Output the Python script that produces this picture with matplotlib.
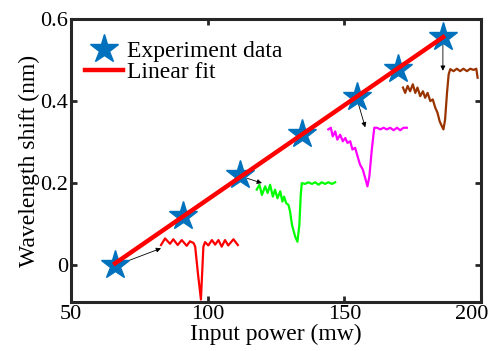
import numpy as np
import matplotlib
matplotlib.use("Agg")
import matplotlib.pyplot as plt
import matplotlib.transforms as mtrans

plt.rcParams['font.family'] = ['Liberation Serif', 'DejaVu Serif']

# measured peak shift vs input power
power = [66.1, 91.0, 111.8, 134.5, 154.6, 169.6, 186.1]
shift = [0.0, 0.12, 0.22, 0.32, 0.41, 0.478, 0.556]

# transmission spectra drawn as insets (in data units of the main axes)
red_x = [82.9, 84.4, 86.2, 87.4, 89.0, 90.5, 92.3, 93.5, 94.8, 95.4, 96.4, 97.5, 98.4,
         99.0, 100.2, 101.5, 102.7, 103.9, 105.1, 106.3, 107.5, 109.4, 111.0]
red_y = [0.049, 0.065, 0.052, 0.063, 0.049, 0.061, 0.047, 0.058, 0.054, 0.045, -0.02,
         -0.084, 0.045, 0.056, 0.048, 0.061, 0.050, 0.061, 0.045, 0.061, 0.048, 0.063, 0.049]

green_x = [117.9, 118.9, 119.8, 121.0, 121.9, 122.8, 123.8, 124.6, 125.5, 126.5, 127.3,
           127.9, 128.7, 129.5, 130.1, 130.8, 132.0, 132.8, 133.5, 134.0, 134.4, 135.6,
           136.8, 138.1, 139.3, 140.5, 141.7, 142.9, 144.1, 145.4, 146.6]
green_y = [0.184, 0.196, 0.171, 0.192, 0.176, 0.196, 0.167, 0.184, 0.163, 0.180, 0.155,
           0.167, 0.151, 0.147, 0.131, 0.098, 0.069, 0.057, 0.098, 0.171, 0.200, 0.198,
           0.202, 0.198, 0.202, 0.196, 0.202, 0.198, 0.202, 0.198, 0.202]

magenta_x = [144.1, 145.0, 145.7, 146.6, 147.4, 148.4, 149.4, 150.3, 151.1, 152.1, 152.9,
             153.9, 154.8, 155.7, 156.7, 157.6, 158.4, 159.1, 160.0, 160.9, 161.9, 163.1,
             164.3, 165.5, 166.7, 168.0, 169.2, 170.4, 171.6, 172.8]
magenta_y = [0.331, 0.335, 0.314, 0.326, 0.306, 0.318, 0.302, 0.310, 0.298, 0.302, 0.282,
             0.286, 0.265, 0.245, 0.233, 0.212, 0.192, 0.216, 0.282, 0.335, 0.335, 0.331,
             0.335, 0.331, 0.335, 0.329, 0.335, 0.329, 0.335, 0.335]

brown_x = [171.4, 172.2, 173.1, 174.0, 175.0, 175.9, 176.7, 177.7, 178.7, 179.5, 180.4,
           181.4, 182.3, 183.2, 184.0, 184.8, 185.6, 186.2, 186.8, 187.5, 188.1, 188.7,
           189.9, 191.1, 192.3, 193.5, 194.8, 196.0, 197.2, 198.2, 198.7]
brown_y = [0.433, 0.420, 0.437, 0.424, 0.441, 0.420, 0.433, 0.412, 0.424, 0.408, 0.420,
           0.400, 0.404, 0.384, 0.372, 0.351, 0.339, 0.331, 0.355, 0.420, 0.465, 0.478,
           0.473, 0.479, 0.473, 0.479, 0.473, 0.479, 0.476, 0.479, 0.457]

# arrows: (start x, start y, end x, end y)
arrows = [(68.7, 0.005, 82.9, 0.041),
          (114.3, 0.212, 119.8, 0.200),
          (154.8, 0.40, 157.6, 0.336),
          (186.0, 0.539, 186.0, 0.474)]

fig = plt.figure(figsize=(4.9, 3.51), dpi=100)
ax = fig.add_axes([0.145, 0.1396, 0.837, 0.806])

for xs, ys, c in [(red_x, red_y, 'red'), (green_x, green_y, '#00ff00'),
                  (magenta_x, magenta_y, '#ff00ff'), (brown_x, brown_y, '#993300')]:
    ax.plot(xs, ys, color=c, lw=1.6, zorder=2)

for x0, y0, x1, y1 in arrows:
    ax.annotate('', xy=(x1, y1), xytext=(x0, y0),
                arrowprops=dict(arrowstyle='-|>', color='black', lw=0.6,
                                mutation_scale=7, shrinkA=0, shrinkB=0), zorder=3)

ax.plot(power, shift, '*', color='#0072bd', ms=21, mec='#0072bd', lw=0,
        label='Experiment data', zorder=4)
k, b = np.polyfit(power, shift, 1)
fx = np.array([power[0], power[-1]])
ax.plot(fx, k * fx + b, color='red', lw=3.2, label='Linear fit', zorder=5)

ax.set_xlim(50, 200)
ax.set_ylim(-0.09, 0.6)
ax.set_xticks([50, 100, 150, 200])
ax.set_yticks([0, 0.2, 0.4, 0.6])
ax.set_yticklabels(['0', '0.2', '0.4', '0.6'])
ax.tick_params(direction='in', top=True, right=True, length=4, width=2,
               labelsize=16, color='#262626', pad=2)
for s in ax.spines.values():
    s.set_linewidth(2.2)
    s.set_color('#262626')

# keep the last x label inside the figure
lbl = ax.get_xticklabels()[-1]
lbl.set_transform(lbl.get_transform() + mtrans.ScaledTranslation(-0.09, 0, fig.dpi_scale_trans))

ax.set_xlabel('Input power (mw)', fontsize=17, labelpad=0)
ax.set_ylabel('Wavelength shift (nm)', fontsize=17, labelpad=0)

ax.legend(loc='upper left', frameon=False, fontsize=17, handlelength=1.6,
          handletextpad=0.15, borderaxespad=0.2, labelspacing=0.0,
          bbox_to_anchor=(0.0, 0.975))

fig.savefig('out.png', dpi=100)
